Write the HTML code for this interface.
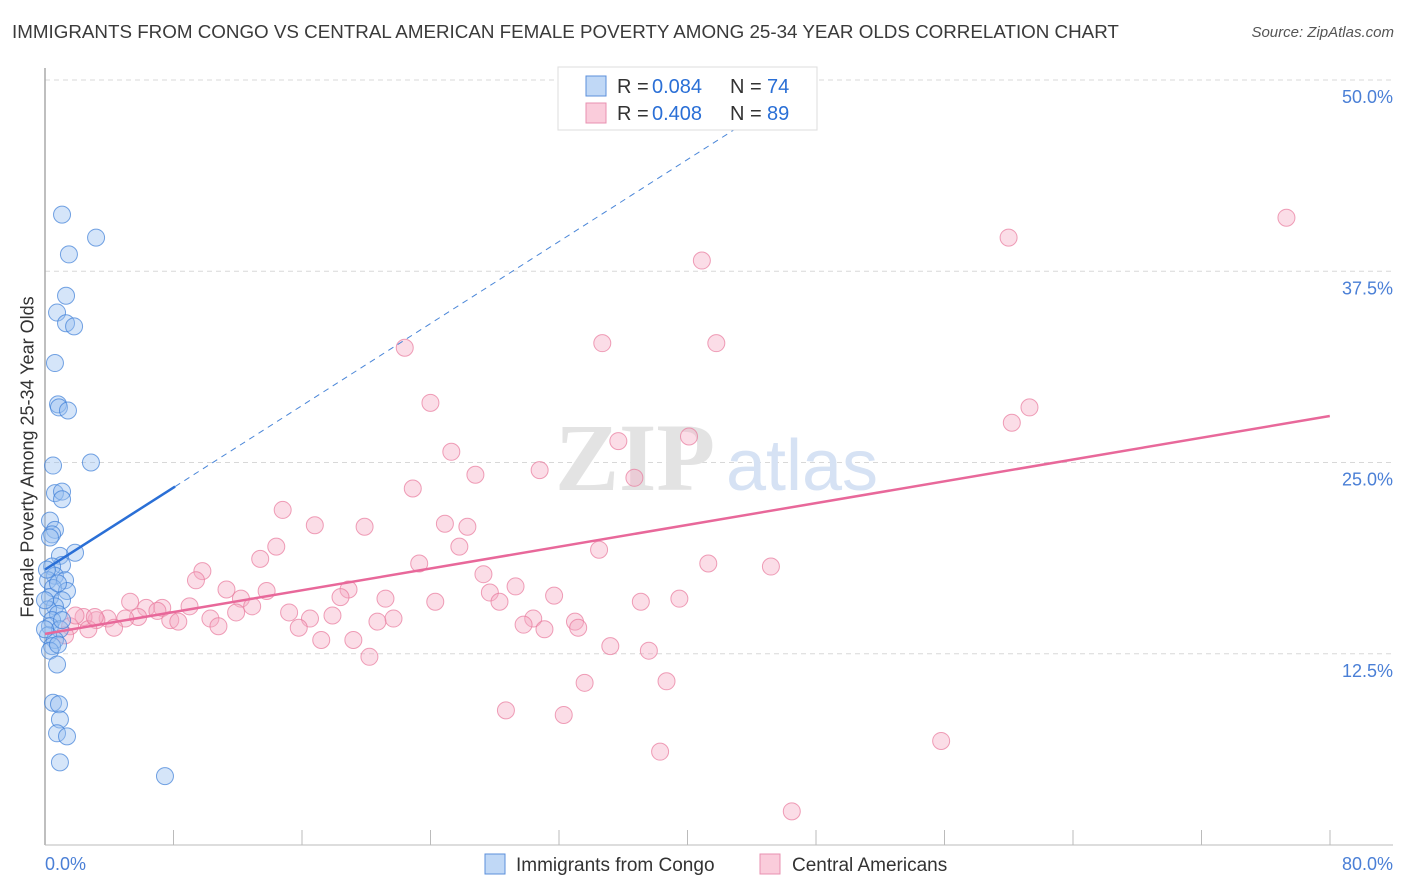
<!DOCTYPE html>
<html><head><meta charset="utf-8"><style>
body{margin:0;background:#fff;font-family:"Liberation Sans",sans-serif;}
#c{position:relative;width:1406px;height:892px;overflow:hidden;}
.t{position:absolute;white-space:nowrap;}
</style></head><body>
<div id="c">
<div class="t" style="left:12px;top:21px;font-size:18.8px;color:#3a3a3a;">IMMIGRANTS FROM CONGO VS CENTRAL AMERICAN FEMALE POVERTY AMONG 25-34 YEAR OLDS CORRELATION CHART</div>
<div class="t" style="right:12px;top:24px;font-size:15px;color:#555;font-style:italic;">Source: ZipAtlas.com</div>
<div class="t" style="left:28px;top:457px;font-size:18px;color:#333;transform:translate(-50%,-50%) rotate(-90deg);">Female Poverty Among 25-34 Year Olds</div>
<svg id="s" width="1406" height="892" style="position:absolute;left:0;top:0"></svg>
</div>
<script>
const yTicks=[12.5,25,37.5,50];
const yTickLabels=["12.5%","25.0%","37.5%","50.0%"];
const blueX=[1.06,3.18,1.49,1.31,0.75,1.31,1.81,0.62,0.81,0.87,1.43,2.86,0.5,0.62,1.06,1.06,0.31,0.62,0.44,0.31,1.87,0.93,1.06,0.44,0.62,0.19,1.25,0.5,1.37,0.31,1.06,0.62,0.19,0.81,0.44,0.31,0.93,0.19,0.62,0.44,0.31,0.75,0.5,0.87,0.93,0.75,1.37,0.93,7.47,0.12,0.81,0,1.06,0,0.81];
const blueY=[41.2,39.7,38.6,35.9,34.8,34.1,33.9,31.5,28.8,28.6,28.4,25.0,24.8,23.0,23.1,22.6,21.2,20.6,20.3,20.1,19.1,18.9,18.3,18.2,17.6,17.3,17.3,16.8,16.6,16.2,16.0,15.6,15.4,15.1,14.7,14.3,14.1,13.7,13.4,13.0,12.7,11.8,9.3,9.2,8.2,7.3,7.1,5.4,4.5,18.0,17.1,16.0,14.7,14.1,13.1];
const pinkX=[77.3,60.0,40.9,22.4,34.7,41.8,24.0,61.3,60.2,35.7,40.1,25.3,30.8,26.8,36.7,22.9,14.8,24.9,16.8,19.9,26.3,14.4,34.5,25.8,13.4,23.3,41.3,45.2,9.8,27.3,9.4,29.3,18.9,11.3,13.8,27.7,18.4,31.7,28.3,5.3,12.2,21.2,37.1,39.5,24.3,6.3,7.3,9.0,12.9,7.0,11.9,15.2,17.9,16.5,21.7,30.4,5.8,10.3,7.8,8.3,5.0,3.9,3.2,2.4,20.7,33.0,29.8,10.8,15.8,33.2,31.1,4.3,2.7,1.56,17.2,19.2,1.25,35.2,37.6,20.2,38.7,33.6,28.7,32.3,55.8,38.3,46.5,3.1,1.9];
const pinkY=[41.0,39.7,38.2,32.5,32.8,32.8,28.9,28.6,27.6,26.4,26.7,25.7,24.5,24.2,24.0,23.3,21.9,21.0,20.9,20.8,20.8,19.5,19.3,19.5,18.7,18.4,18.4,18.2,17.9,17.7,17.3,16.9,16.7,16.7,16.6,16.5,16.2,16.3,15.9,15.9,16.1,16.1,15.9,16.1,15.9,15.5,15.5,15.6,15.6,15.3,15.2,15.2,15.0,14.8,14.8,14.8,14.9,14.8,14.7,14.6,14.8,14.8,14.7,14.9,14.6,14.6,14.4,14.3,14.2,14.2,14.1,14.2,14.1,14.3,13.4,13.4,13.7,13.0,12.7,12.3,10.7,10.6,8.8,8.5,6.8,6.1,2.2,14.9,15.0];
const blueFit=[18.0,0.67];
const pinkFit=[13.8,0.178];
const X=v=>45+v*16.06, Y=v=>845-v*15.3;
const NS="http://www.w3.org/2000/svg", s=document.getElementById('s');
function mk(tag,at,parent){const e=document.createElementNS(NS,tag);for(const k in at)e.setAttribute(k,at[k]);(parent||s).appendChild(e);return e;}
yTicks.forEach((t,i)=>{
 const g=mk('line',{x1:45,x2:1393,y1:Y(t),y2:Y(t),stroke:'#d8d8d8','stroke-dasharray':'5,4'});
 
 
 const l=mk('text',{x:1393,y:Y(t)+23,'text-anchor':'end','font-size':18,fill:'#4a7fd6','font-family':'Liberation Sans'});
 l.textContent=yTickLabels[i];
 
 
});
const ax=mk('line',{x1:45,x2:45,y1:68,y2:845,stroke:'#aaa','stroke-width':1.5});


const xa=mk('line',{x1:45,x2:1393,y1:845,y2:845,stroke:'#bbb'});


for(let i=1;i<=10;i++){const tk=mk('line',{x1:45+i*128.5,x2:45+i*128.5,y1:830,y2:845,stroke:'#bbb'});
 
 }
[['0.0%',45,'start'],['80.0%',1393,'end']].forEach(a=>{const t=mk('text',{x:a[1],y:870,'text-anchor':a[2],'font-size':18,fill:'#4a7fd6','font-family':'Liberation Sans'});t.textContent=a[0];
 
 });
const w1=mk('text',{x:635,y:490,'text-anchor':'middle','font-size':96,fill:'#e3e3e3','font-family':'Liberation Serif','font-weight':'bold'});w1.textContent='ZIP';


const w2=mk('text',{x:802,y:490,'text-anchor':'middle','font-size':72,fill:'#d6e2f4','font-family':'Liberation Sans'});w2.textContent='atlas';


pinkX.forEach((x,i)=>{const c=mk('circle',{cx:X(x),cy:Y(pinkY[i]),r:8.5,fill:'rgba(246,170,195,0.4)',stroke:'rgba(232,120,155,0.7)','stroke-width':1});
 
 });
blueX.forEach((x,i)=>{const c=mk('circle',{cx:X(x),cy:Y(blueY[i]),r:8.5,fill:'rgba(150,190,240,0.4)',stroke:'rgba(60,125,215,0.7)','stroke-width':1});
 
 });
const bd=mk('line',{x1:X(8.1),y1:Y(blueFit[0]+blueFit[1]*8.1),x2:X(45),y2:Y(blueFit[0]+blueFit[1]*45),stroke:'#4a86d8','stroke-width':1,'stroke-dasharray':'6,5'});


const bl=mk('line',{x1:X(0),y1:Y(blueFit[0]),x2:X(8.1),y2:Y(blueFit[0]+blueFit[1]*8.1),stroke:'#2a6fd6','stroke-width':2.5});


const pl=mk('line',{x1:X(0),y1:Y(pinkFit[0]),x2:X(80),y2:Y(pinkFit[0]+pinkFit[1]*80),stroke:'#e8689a','stroke-width':2.5});


// legend
const lg=mk('rect',{x:558,y:67,width:259,height:63,fill:'#fff',stroke:'#ddd'});


[[86,'rgba(150,190,240,0.6)','#5b8fdb','0.084','74'],[113,'rgba(246,170,195,0.6)','#e891b0','0.408','89']].forEach(r=>{
 const sw=mk('rect',{x:586,y:r[0]-10,width:20,height:20,fill:r[1],stroke:r[2]});
 
 
 [['R =',617,'#333'],[r[3],652,'#2a6fd6'],['N =',730,'#333'],[r[4],767,'#2a6fd6']].forEach(p=>{
  const t=mk('text',{x:p[1],y:r[0]+7,'font-size':20,fill:p[2],'font-family':'Liberation Sans'});
  t.textContent=p[0];
  
  
 });
});
[[485,'rgba(150,190,240,0.6)','#5b8fdb','Immigrants from Congo',516],[760,'rgba(246,170,195,0.6)','#e891b0','Central Americans',792]].forEach(r=>{
 const sw=mk('rect',{x:r[0],y:854,width:20,height:20,fill:r[1],stroke:r[2]});
 
 
 const t=mk('text',{x:r[4],y:871,'font-size':19,fill:'#333','font-family':'Liberation Sans'});t.textContent=r[3];
 
 
});
</script>
</body></html>
